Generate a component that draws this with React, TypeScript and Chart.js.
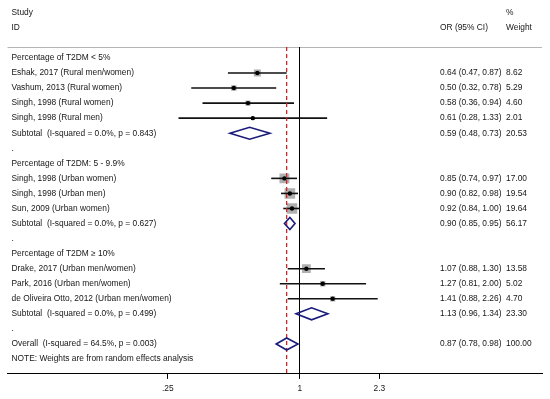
import { useEffect, useRef } from 'react';
import { Chart, registerables } from 'chart.js';

Chart.register(...registerables);

// ---- Data ----
const rowLabels: string[] = [
  'Percentage of T2DM < 5%',
  'Eshak, 2017 (Rural men/women)',
  'Vashum, 2013 (Rural women)',
  'Singh, 1998 (Rural women)',
  'Singh, 1998 (Rural men)',
  'Subtotal  (I-squared = 0.0%, p = 0.843)',
  '.',
  'Percentage of T2DM: 5 - 9.9%',
  'Singh, 1998 (Urban women)',
  'Singh, 1998 (Urban men)',
  'Sun, 2009 (Urban women)',
  'Subtotal  (I-squared = 0.0%, p = 0.627)',
  '.',
  'Percentage of T2DM \u2265 10%',
  'Drake, 2017 (Urban men/women)',
  'Park, 2016 (Urban men/women)',
  'de Oliveira Otto, 2012 (Urban men/women)',
  'Subtotal  (I-squared = 0.0%, p = 0.499)',
  '.',
  'Overall  (I-squared = 64.5%, p = 0.003)',
  'NOTE: Weights are from random effects analysis',
];

const rowKinds: string[] = [
  'header', 'study', 'study', 'study', 'study', 'pooled', 'blank',
  'header', 'study', 'study', 'study', 'pooled', 'blank',
  'header', 'study', 'study', 'study', 'pooled', 'blank',
  'pooled', 'note',
];

const oddsRatios: (number | null)[] = [
  null, 0.64, 0.50, 0.58, 0.61, 0.59, null,
  null, 0.85, 0.90, 0.92, 0.90, null,
  null, 1.07, 1.27, 1.41, 1.13, null,
  0.87, null,
];

const lowerCI: (number | null)[] = [
  null, 0.47, 0.32, 0.36, 0.28, 0.48, null,
  null, 0.74, 0.82, 0.84, 0.85, null,
  null, 0.88, 0.81, 0.88, 0.96, null,
  0.78, null,
];

const upperCI: (number | null)[] = [
  null, 0.87, 0.78, 0.94, 1.33, 0.73, null,
  null, 0.97, 0.98, 1.00, 0.95, null,
  null, 1.30, 2.00, 2.26, 1.34, null,
  0.98, null,
];

const weights: (number | null)[] = [
  null, 8.62, 5.29, 4.60, 2.01, 20.53, null,
  null, 17.00, 19.54, 19.64, 56.17, null,
  null, 13.58, 5.02, 4.70, 23.30, null,
  100.0, null,
];

const overallEstimate = 0.87;
const xTickValues = [0.25, 1, 2.3];
const xTickLabels = ['.25', '1', '2.3'];

// ---- Styles ----
const FONT = "8.4px 'Liberation Sans', Arial, Helvetica, sans-serif";
const TEXT_COLOR = '#161616';
const DIAMOND_COLOR = '#1a1a7a';
const BOX_COLOR = '#b0b0b0';
const LEFT_X = 11.5;
const EST_X = 440;
const WT_X = 506;

export default function App() {
  const canvasRef = useRef<HTMLCanvasElement>(null);

  useEffect(() => {
    const canvas = canvasRef.current;
    if (!canvas) return;

    const dotPts: { x: number; y: number }[] = [];
    const boxPts: { x: number; y: number }[] = [];
    const boxRadii: number[] = [];
    rowKinds.forEach((k, i) => {
      if (k === 'study') {
        const est = oddsRatios[i] as number;
        dotPts.push({ x: est, y: i });
        boxPts.push({ x: est, y: i });
        const side = 2.4 * Math.sqrt(weights[i] as number);
        boxRadii.push(side / Math.SQRT2);
      }
    });

    const forestPlugin = {
      id: 'forest',
      beforeDatasetsDraw(chart: any) {
        const { ctx, chartArea, scales } = chart;
        const xs = scales.x;
        ctx.save();
        ctx.strokeStyle = '#b5b5b5';
        ctx.lineWidth = 1;
        ctx.beginPath();
        ctx.moveTo(chartArea.left, chartArea.top + 0.5);
        ctx.lineTo(chartArea.right, chartArea.top + 0.5);
        ctx.stroke();
        const x1 = Math.round(xs.getPixelForValue(1)) - 0.5;
        ctx.strokeStyle = '#000000';
        ctx.beginPath();
        ctx.moveTo(x1, chartArea.top);
        ctx.lineTo(x1, chartArea.bottom);
        ctx.stroke();
        ctx.restore();
      },
      afterDatasetDraw(chart: any, args: any) {
        if (args.index !== 1) return;
        const { ctx, scales } = chart;
        const xs = scales.x;
        const ys = scales.y;
        ctx.save();
        ctx.strokeStyle = '#111111';
        ctx.lineWidth = 1.6;
        rowKinds.forEach((k, i) => {
          if (k !== 'study') return;
          const y = ys.getPixelForValue(i);
          ctx.beginPath();
          ctx.moveTo(xs.getPixelForValue(lowerCI[i] as number), y);
          ctx.lineTo(xs.getPixelForValue(upperCI[i] as number), y);
          ctx.stroke();
        });
        ctx.restore();
      },
      afterDraw(chart: any) {
        const { ctx, chartArea, scales } = chart;
        const xs = scales.x;
        const ys = scales.y;
        ctx.save();
        const xo = xs.getPixelForValue(overallEstimate);
        ctx.strokeStyle = '#c82828';
        ctx.lineWidth = 1.3;
        ctx.setLineDash([4, 3]);
        ctx.beginPath();
        ctx.moveTo(xo, chartArea.top);
        ctx.lineTo(xo, chartArea.bottom);
        ctx.stroke();
        ctx.setLineDash([]);

        ctx.strokeStyle = DIAMOND_COLOR;
        ctx.lineWidth = 1.6;
        rowKinds.forEach((k, i) => {
          if (k !== 'pooled') return;
          const y = ys.getPixelForValue(i);
          const xl = xs.getPixelForValue(lowerCI[i] as number);
          const xm = xs.getPixelForValue(oddsRatios[i] as number);
          const xr = xs.getPixelForValue(upperCI[i] as number);
          const h = 6;
          ctx.beginPath();
          ctx.moveTo(xl, y);
          ctx.lineTo(xm, y - h);
          ctx.lineTo(xr, y);
          ctx.lineTo(xm, y + h);
          ctx.closePath();
          ctx.stroke();
        });

        ctx.font = FONT;
        ctx.fillStyle = TEXT_COLOR;
        ctx.textBaseline = 'middle';
        ctx.textAlign = 'left';
        ctx.fillText('Study', LEFT_X, ys.getPixelForValue(-3));
        ctx.fillText('ID', LEFT_X, ys.getPixelForValue(-2));
        ctx.fillText('OR (95% CI)', EST_X, ys.getPixelForValue(-2));
        ctx.fillText('%', WT_X, ys.getPixelForValue(-3));
        ctx.fillText('Weight', WT_X, ys.getPixelForValue(-2));
        rowLabels.forEach((lab, i) => {
          const y = ys.getPixelForValue(i);
          ctx.fillText(lab, LEFT_X, y);
          const est = oddsRatios[i];
          if (est != null) {
            const s = `${est.toFixed(2)} (${(lowerCI[i] as number).toFixed(2)}, ${(upperCI[i] as number).toFixed(2)})`;
            ctx.fillText(s, EST_X, y);
            ctx.fillText((weights[i] as number).toFixed(2), WT_X, y);
          }
        });
        ctx.restore();
      },
    };

    const chart = new Chart(canvas, {
      type: 'scatter',
      data: {
        datasets: [
          {
            label: 'Estimate',
            data: dotPts,
            pointStyle: 'circle',
            pointRadius: 2.2,
            pointBackgroundColor: '#000000',
            pointBorderWidth: 0,
          },
          {
            label: 'Weight',
            data: boxPts,
            pointStyle: 'rect',
            pointRadius: boxRadii,
            pointBackgroundColor: BOX_COLOR,
            pointBorderWidth: 0,
          },
        ],
      },
      options: {
        responsive: false,
        animation: false,
        events: [],
        layout: { padding: { left: 4, right: 8, top: 47, bottom: 0 } },
        plugins: {
          legend: { display: false },
          tooltip: { enabled: false },
        },
        scales: {
          x: {
            type: 'logarithmic',
            position: 'bottom',
            min: 0.0466,
            max: 12.66,
            afterBuildTicks: (scale: any) => {
              scale.ticks = xTickValues.map((v) => ({ value: v }));
            },
            ticks: {
              autoSkip: false,
              maxRotation: 0,
              padding: 5,
              color: TEXT_COLOR,
              font: { family: "'Liberation Sans', Arial, sans-serif", size: 8.4 },
              callback: (_v: any, idx: number) => xTickLabels[idx],
            },
            grid: {
              drawOnChartArea: false,
              drawTicks: true,
              tickLength: 5,
              color: '#000000',
            },
            border: { display: true, color: '#000000', width: 1 },
          },
          y: {
            type: 'linear',
            display: false,
            reverse: true,
            min: -0.728,
            max: 20.99,
          },
        },
      },
      plugins: [forestPlugin],
    } as any);

    return () => chart.destroy();
  }, []);

  return (
    <div style={{ position: 'absolute', left: 0, top: 0, width: 550, height: 399, background: '#fff' }}>
      <canvas ref={canvasRef} width={550} height={399} />
    </div>
  );
}
